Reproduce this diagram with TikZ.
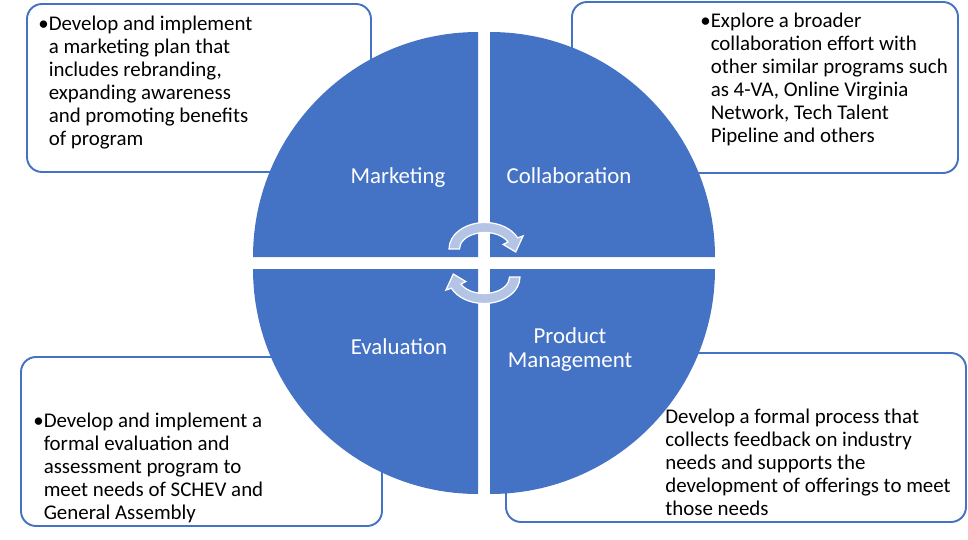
\documentclass[tikz,border=0pt]{standalone}
\usepackage{fontspec}
\setmainfont{Carlito}
\usepackage{tikz}

\definecolor{quadblue}{RGB}{68,114,196}
\definecolor{arrowfill}{RGB}{180,196,229}

\begin{document}
\begin{tikzpicture}[x=0.02cm, y=0.02cm,
    infobox/.style={draw=quadblue, line width=1.1pt, rounded corners=0.3cm, fill=white},
    quad/.style={fill=quadblue},
    bodytext/.style={anchor=base west, inner sep=0pt, font=\fontsize{11.9}{13.1}\selectfont},
    quadlabel/.style={anchor=base, inner sep=0pt, text=white, font=\fontsize{13}{14.2}\selectfont},
    cycarrow/.style={fill=arrowfill, draw=white, line width=0.7pt, line join=miter}]
    \useasboundingbox (0,0) rectangle (968,539);
    % text boxes
    \draw [infobox] (27,367) rectangle (371,535);
    \draw [infobox] (572,366) rectangle (958,537);
    \draw [infobox] (21,13) rectangle (382,182);
    \draw [infobox] (506,17) rectangle (966,186);
    % four quarters of the circle
    \fill [quad] (478,282) -- ++(-225,0) arc[start angle=180, end angle=90, radius=225] -- cycle;
    \fill [quad] (490,282) -- ++(0,225) arc[start angle=90, end angle=0, radius=225] -- cycle;
    \fill [quad] (478,270) -- ++(-225,0) arc[start angle=180, end angle=270, radius=225] -- cycle;
    \fill [quad] (490,270) -- ++(225,0) arc[start angle=0, end angle=-90, radius=225] -- cycle;
    \node (mkt) [quadlabel] at (398,356) {Marketing};
    \node (col) [quadlabel] at (569,356) {Collaboration};
    \node (eva) [quadlabel] at (399,185) {Evaluation};
    \node (prd) [quadlabel] at (570,196) {\begin{tabular}[t]{@{}c@{}}Product\\Management\end{tabular}};
    % circular arrows
    \begin{scope}[shift={(485,290)}]
      \filldraw [cycarrow] (-36,0) arc[start angle=180, end angle=25, x radius=36, y radius=26.5]
        -- (38.1,13.1) -- (30.7,-3) -- (18.1,4.6) -- (23.1,7.0)
        arc[start angle=25, end angle=180, x radius=25.5, y radius=16.5] -- cycle;
    \end{scope}
    \begin{scope}[shift={(484,262)}]
      \filldraw [cycarrow] (36,0) arc[start angle=0, end angle=-155, x radius=36, y radius=26.5]
        -- (-38.1,-13.1) -- (-30.7,3) -- (-18.1,-4.6) -- (-23.1,-7.0)
        arc[start angle=-155, end angle=0, x radius=25.5, y radius=16.5] -- cycle;
    \end{scope}
    % box texts
    \node (mkttext) [bodytext] at (38,509) {\begin{tabular}[t]{@{}l@{}l@{}}\textbullet&Develop and implement\\
      &a marketing plan that\\ &includes rebranding,\\ &expanding awareness\\
      &and promoting benefits\\ &of program\end{tabular}};
    \node (coltext) [bodytext] at (700,512) {\begin{tabular}[t]{@{}l@{}l@{}}\textbullet&Explore a broader\\
      &collaboration effort with\\ &other similar programs such\\ &as 4-VA, Online Virginia\\
      &Network, Tech Talent\\ &Pipeline and others\end{tabular}};
    \node (evatext) [bodytext] at (33,112) {\begin{tabular}[t]{@{}l@{}l@{}}\textbullet&Develop and implement a\\
      &formal evaluation and\\ &assessment program to\\ &meet needs of SCHEV and\\
      &General Assembly\end{tabular}};
    \node (prdtext) [bodytext] at (665,116) {\begin{tabular}[t]{@{}l@{}}Develop a formal process that\\
      collects feedback on industry\\ needs and supports the\\
      development of offerings to meet\\ those needs\end{tabular}};
\end{tikzpicture}
\end{document}
